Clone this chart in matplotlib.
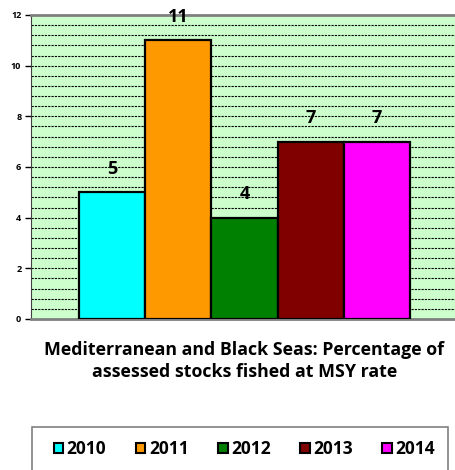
import numpy as np
import matplotlib
matplotlib.use('Agg')
import matplotlib.pyplot as plt
from matplotlib.patches import Patch, Rectangle

plt.rcParams['font.family'] = ['Open Sans', 'DejaVu Sans']
plt.rcParams['font.weight'] = 'bold'

# stocks fished at MSY rate, by year
years = ['2010', '2011', '2012', '2013', '2014']
values = [5, 11, 4, 7, 7]
colors = ['#00FFFF', '#FF9900', '#008000', '#800000', '#FF00FF']
yticks = [0, 2, 4, 6, 8, 10, 12]

fig = plt.figure(figsize=(4.56, 4.70), dpi=100)
ax = fig.add_axes([31/456, 151/470, 425/456, 304/470])
ax.set_facecolor('#CCFFCC')

# dashed gridlines every 0.4
for y in np.arange(0.4, 12, 0.4):
    ax.axhline(y, color='black', lw=0.8, ls=(0, (2, 1)), zorder=1)

x = np.arange(len(years))
ax.bar(x, values, width=1.0, color=colors, edgecolor='black', lw=1.6, zorder=3)
for xi, v in zip(x, values):
    ax.annotate(str(v), (xi, v), xytext=(0, 17), textcoords='offset points',
                ha='center', va='center', fontsize=13, fontweight='bold')

ax.set_xlim(-1.227, 5.197)
ax.set_ylim(0, 12)
ax.set_xticks([])
ax.set_yticks(yticks)
ax.tick_params(axis='y', labelsize=6.5, length=4, width=1, pad=3)
for s in ['top', 'bottom']:
    ax.spines[s].set_color('#808080')
    ax.spines[s].set_linewidth(2)
ax.spines['left'].set_color('#404040')
ax.spines['right'].set_visible(False)

fig.text(0.536, 1 - 361/470, 'Mediterranean and Black Seas: Percentage of\nassessed stocks fished at MSY rate',
         ha='center', va='center', fontsize=12.8, fontweight='bold', linespacing=1.3)

# legend box
fig.patches.append(Rectangle((32/456, -0.1), 416/456, 0.1 + 43/470, transform=fig.transFigure,
                             fill=False, edgecolor='#808080', lw=1.2))
handles = [Patch(facecolor=c, edgecolor='black', lw=1.5) for c in colors]
fig.legend(handles, years, loc='center', bbox_to_anchor=(0.536, 21/470), ncol=5,
           frameon=False, fontsize=12.5, handlelength=0.55, handleheight=0.55,
           handletextpad=0.2, columnspacing=1.7)

plt.savefig('out.png', dpi=100)
plt.close()
